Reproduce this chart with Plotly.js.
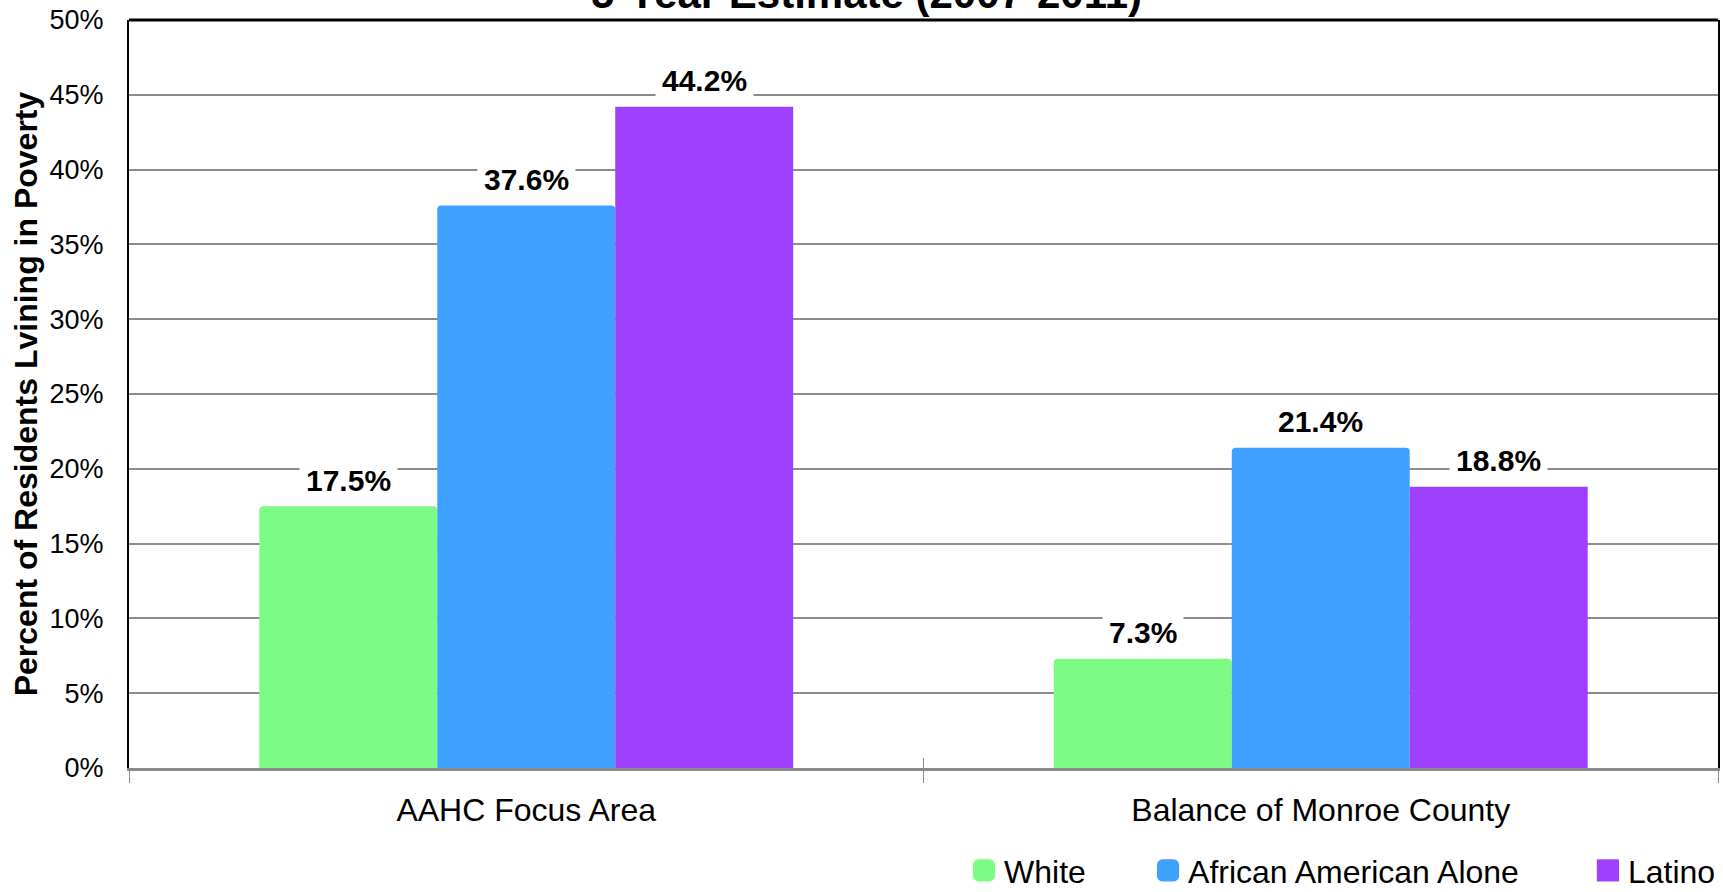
<!DOCTYPE html>
<html>
<head>
<meta charset="utf-8">
<script src="https://cdn.plot.ly/plotly-3.0.1.min.js"></script>
<style>html,body{margin:0;padding:0;background:#fff;}#chart{width:1723px;height:892px;}</style>
</head>
<body>
<div id="chart"></div>
<script>
const categories = ["AAHC Focus Area", "Balance of Monroe County"];
const seriesNames = ["White", "African American Alone", "Latino"];
const white = [17.5, 7.3];
const africanAmerican = [37.6, 21.4];
const latino = [44.2, 18.8];
const yTickVals = [0, 5, 10, 15, 20, 25, 30, 35, 40, 45, 50];
const yTickText = ["0%", "5%", "10%", "15%", "20%", "25%", "30%", "35%", "40%", "45%", "50%"];
const titleText = "5-Year Estimate (2007-2011)";
const yTitleText = "Percent of Residents Lvining in Poverty";

const FONT = "Liberation Sans, Arial, Helvetica, sans-serif";
const colors = ["#7cfc84", "#3ea1ff", "#a040ff"];
const radii = [4, 4, 0];
const legendIds = ["legend", "legend2", "legend3"];
const legendX = [0.5595, 0.6663, 0.9216];
const seriesData = [white, africanAmerican, latino];

const W = 1723, H = 892;
const margin = {l: 129, r: 5, t: 20, b: 124};
const bargap = 0.328;

const traces = seriesData.map((vals, i) => ({
  type: "bar",
  name: seriesNames[i],
  x: categories,
  y: vals,
  legend: legendIds[i],
  marker: {color: colors[i], cornerradius: radii[i], line: {width: 0}},
  hoverinfo: "skip"
}));

const plotW = W - margin.l - margin.r;
const barPx = plotW / categories.length * (1 - bargap) / seriesData.length;

const annotations = [];
seriesData.forEach((vals, i) => {
  vals.forEach((v, j) => {
    annotations.push({
      x: categories[j], y: v, xref: "x", yref: "y",
      text: "<b>" + v.toFixed(1) + "%</b>",
      showarrow: false,
      xshift: (i - 1) * barPx,
      yshift: 26,
      yanchor: "middle",
      bgcolor: "#ffffff",
      borderpad: 6,
      font: {family: FONT, size: 30, color: "#000"}
    });
  });
});

// chart title, partly above the top edge as in the reference
annotations.push({
  text: "<b>" + titleText + "</b>",
  xref: "paper", yref: "paper", x: 0.4644, y: 1,
  xanchor: "center", yanchor: "bottom", yshift: 1,
  showarrow: false,
  font: {family: FONT, size: 42, color: "#000"}
});

const layout = {
  width: W, height: H,
  margin: margin,
  paper_bgcolor: "#fff",
  plot_bgcolor: "#fff",
  barmode: "group",
  bargap: bargap,
  bargroupgap: 0,
  font: {family: FONT, color: "#000"},
  xaxis: {
    type: "category",
    showgrid: false,
    showline: true, linecolor: "#8a8a8a", linewidth: 3,
    ticks: "outside", tickson: "boundaries", ticklen: 12, tickcolor: "#8a8a8a", tickwidth: 1,
    tickfont: {family: FONT, size: 32, color: "#000"},
    ticklabelstandoff: 12,
    zeroline: false, fixedrange: true, automargin: false
  },
  yaxis: {
    range: [0, 50],
    tickvals: yTickVals, ticktext: yTickText,
    showgrid: true, gridcolor: "#8c8c8c", gridwidth: 2,
    showline: true, linecolor: "#000", linewidth: 2, mirror: true,
    ticks: "", ticklabelstandoff: 18,
    tickfont: {family: FONT, size: 27, color: "#000"},
    zeroline: false, fixedrange: true, automargin: false,
    title: {text: "<b>" + yTitleText + "</b>", font: {family: FONT, size: 32, color: "#000"}, standoff: 2}
  },
  shapes: [
    {type: "line", xref: "paper", yref: "paper", x0: 0, x1: 1, y0: 1, y1: 1, line: {color: "#000", width: 3}},
    {type: "line", xref: "paper", yref: "paper", ysizemode: "pixel", yanchor: 0,
     x0: 0.5, x1: 0.5, y0: 0, y1: 10, line: {color: "#8a8a8a", width: 1}}
  ],
  showlegend: true,
  annotations: annotations
};

legendIds.forEach((id, i) => {
  layout[id] = {
    orientation: "h",
    x: legendX[i], xanchor: "left", xref: "container",
    y: 0.024, yanchor: "middle", yref: "container",
    font: {family: FONT, size: 32, color: "#000"},
    bgcolor: "rgba(0,0,0,0)",
    borderwidth: 0
  };
});

Plotly.newPlot("chart", traces, layout, {displayModeBar: false, staticPlot: true}).then(gd => {
  gd.querySelectorAll(".legendpoints path").forEach(p => {
    const t = p.getAttribute("transform") || "";
    p.setAttribute("transform", t + " scale(1.85)");
  });
});
</script>
</body>
</html>
